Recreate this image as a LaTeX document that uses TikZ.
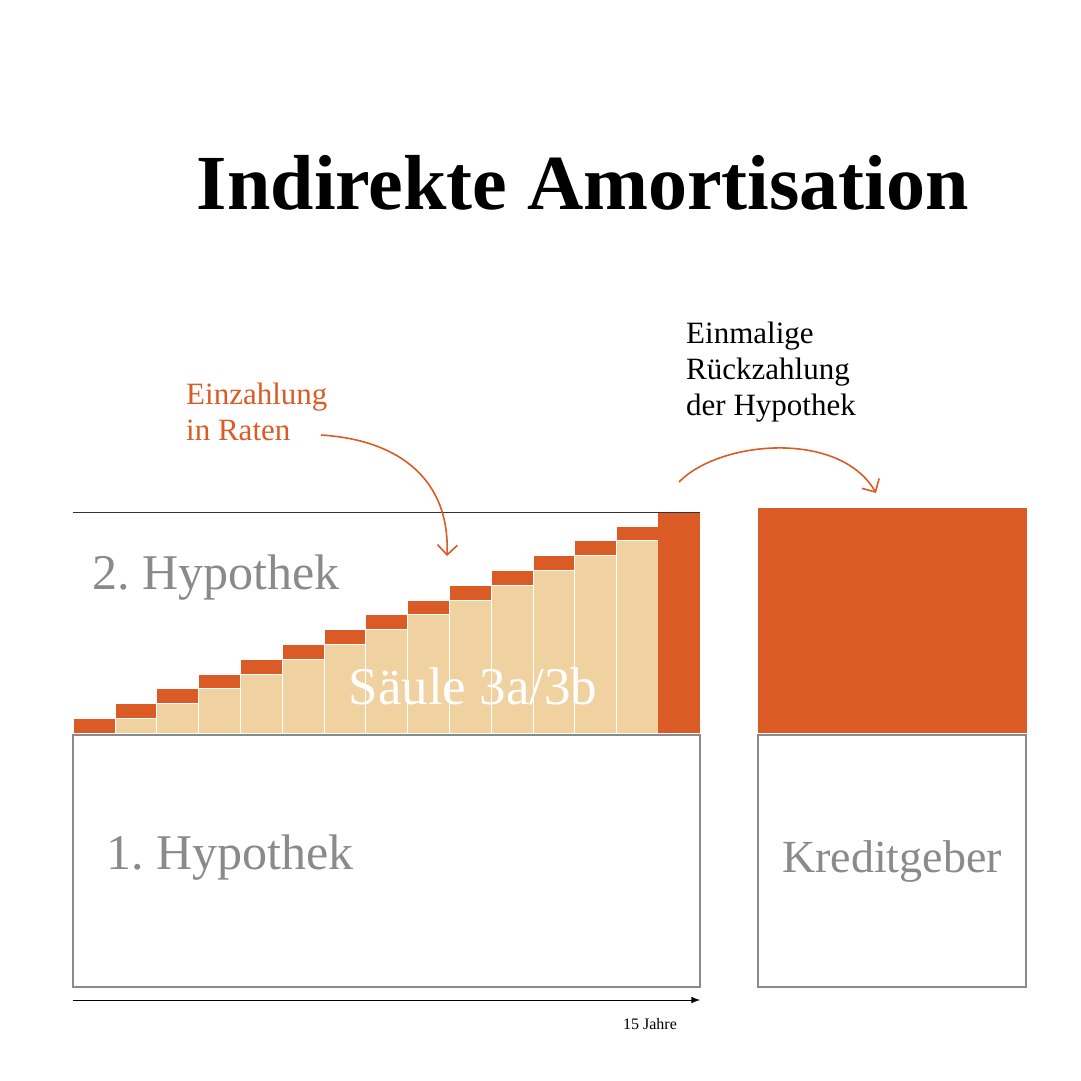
\documentclass[tikz,border=0pt]{standalone}
\usepackage{fontspec}
\setmainfont{Liberation Serif}
\definecolor{RustOrange}{HTML}{DA5B26}
\definecolor{Sand}{HTML}{F0D1A0}
\definecolor{MidGray}{HTML}{8A8A8A}
\usetikzlibrary{arrows.meta,positioning}
\begin{document}
\begin{tikzpicture}[x=1pt,y=-1pt,
      rate/.style={fill=RustOrange, draw=white, line width=0.6pt},
      saving/.style={fill=Sand, draw=white, line width=0.6pt},
      frame/.style={draw=MidGray, line width=2.2pt},
      grayname/.style={text=MidGray, anchor=west, inner sep=0pt},
      curvearrow/.style={-{Straight Barb[length=3.5mm]}, RustOrange, line width=1.6pt}]

  \useasboundingbox (0,0) rectangle (1081,1081);

  \node[font=\fontsize{78}{84}\selectfont\bfseries] (title) at (583,183) {Indirekte Amortisation};

  % staircase
  \foreach \i in {0,...,13}{
    \pgfmathsetmacro{\xl}{73+41.8*\i}
    \pgfmathsetmacro{\xr}{\xl+41.8}
    \pgfmathsetmacro{\yb}{733-14.8*\i}
    \pgfmathsetmacro{\yo}{733-14.8*(\i+1)}
    \fill[saving] (\xl,733) rectangle (\xr,\yb);
    \fill[rate] (\xl,\yb) rectangle (\xr,\yo);
  }
  \fill[RustOrange] (658.2,733) rectangle (700,512);
  \draw[black!80, line width=0.8pt] (73,512) -- (700,512);

  \node[grayname, font=\fontsize{50}{56}\selectfont] (hyp2) at (92,578) {2.\ Hypothek};
  \node[text=white, font=\fontsize{53}{56}\selectfont] (saeule) at (473,686) {Säule 3a/3b};

  \draw[frame] (73,735) rectangle (700,987);
  \node[grayname, font=\fontsize{50}{56}\selectfont] (hyp1) at (106,858) {1.\ Hypothek};

  \fill[RustOrange] (758,508) rectangle (1027,733);
  \draw[frame] (758,735) rectangle (1026,987) node[midway, text=MidGray,
        font=\fontsize{46}{50}\selectfont] (kredit) {Kreditgeber};

  \coordinate (t0) at (73,1000);
  \coordinate (t1) at (700,1000);
  \draw[-{Latex[length=3mm]}, line width=0.7pt] (t0) -- (t1);
  \node[font=\fontsize{16}{18}\selectfont] (jahre) at (650,1024) {15 Jahre};

  \node[text=RustOrange, align=left, anchor=north west, inner sep=0pt,
        font=\fontsize{31}{36}\selectfont] (einz) at (186,383) {Einzahlung\\in Raten};
  \node[align=left, anchor=north west, inner sep=0pt,
        font=\fontsize{31}{36}\selectfont] (rueck) at (686,322) {Einmalige\\Rückzahlung\\der Hypothek};

  \coordinate (a1s) at (321,435);
  \coordinate (a1e) at (447,556);
  \coordinate (a2s) at (679,482);
  \coordinate (a2e) at (876,493);
  \draw[curvearrow] (a1s) .. controls (400,440) and (450,480) .. (a1e);
  \draw[curvearrow] (a2s) .. controls (720,440) and (840,430) .. (a2e);
\end{tikzpicture}
\end{document}
